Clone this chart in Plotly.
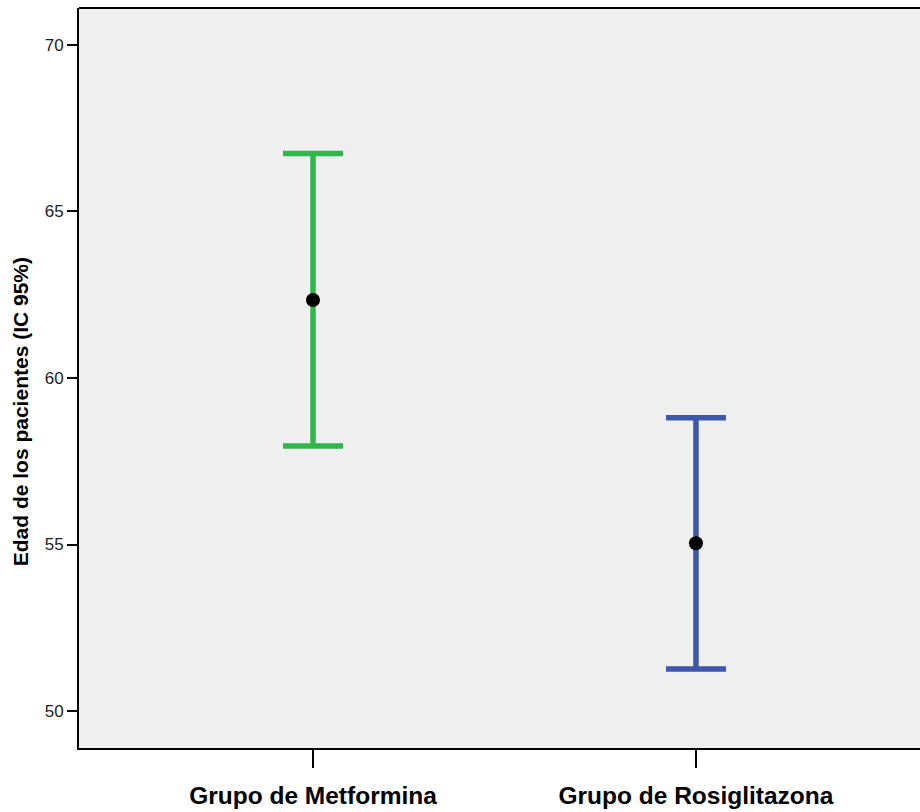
import plotly.graph_objects as go

groups = ["Grupo de Metformina", "Grupo de Rosiglitazona"]
means = [62.34, 55.04]
upper = [66.74, 58.81]
lower = [57.96, 51.26]
colors = ["#2EB84A", "#3E58AC"]
y_ticks = [50, 55, 60, 65, 70]

fig = go.Figure()
for i, g in enumerate(groups):
    fig.add_trace(go.Scatter(
        x=[i], y=[means[i]], mode="markers",
        marker=dict(color="black", size=14),
        error_y=dict(type="data", symmetric=False,
                     array=[upper[i] - means[i]], arrayminus=[means[i] - lower[i]],
                     color=colors[i], thickness=5.5, width=30),
        showlegend=False, hoverinfo="skip"))

fig.update_layout(
    width=920, height=812,
    margin=dict(l=79, r=0, t=8, b=64),
    paper_bgcolor="white", plot_bgcolor="#EFEFEF",
    font=dict(family="Liberation Sans, Arial", color="#222"),
    xaxis=dict(range=[-0.611, 1.585], tickvals=[0, 1],
               ticktext=["<b>" + g + "</b>" for g in groups],
               showline=True, linecolor="black", linewidth=2, mirror=False,
               ticks="outside", ticklen=18, tickwidth=2, tickcolor="black",
               showgrid=False, zeroline=False,
               tickfont=dict(size=24.5, color="black", family="Liberation Sans, Arial"),
               ticklabelstandoff=7),
    yaxis=dict(range=[48.89, 71.11], tickvals=y_ticks,
               showline=True, linecolor="black", linewidth=2, mirror=False,
               ticks="outside", ticklen=10, tickwidth=2, tickcolor="black",
               showgrid=False, zeroline=False,
               tickfont=dict(size=17, color="#222")),
)
fig.add_shape(type="line", xref="paper", yref="paper", x0=0, x1=1, y0=1, y1=1,
              line=dict(color="black", width=2))
fig.add_annotation(text="<b>Edad de los pacientes (IC 95%)</b>", textangle=-90,
                   xref="paper", yref="paper", x=-0.0702, y=0.455,
                   xanchor="center", yanchor="middle", showarrow=False,
                   font=dict(size=21, color="black"))
fig.write_html("out.html")
